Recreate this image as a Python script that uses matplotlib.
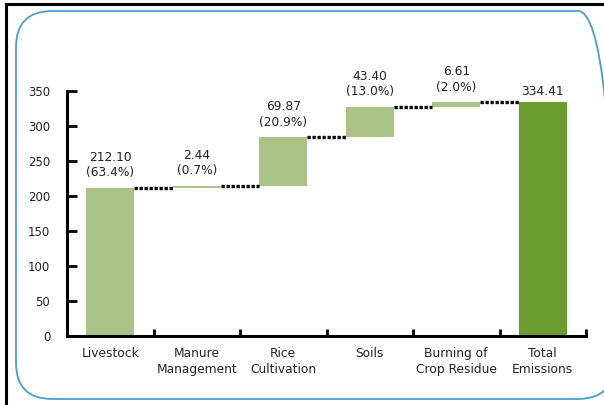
import matplotlib
matplotlib.use("Agg")
import matplotlib.pyplot as plt
from matplotlib.patches import FancyBboxPatch
from matplotlib.lines import Line2D
import numpy as np

plt.rcParams['font.family'] = ['DejaVu Sans']

categories = ["Livestock", "Manure\nManagement", "Rice\nCultivation", "Soils",
              "Burning of\nCrop Residue", "Total\nEmissions"]
values = [212.10, 2.44, 69.87, 43.40, 6.61]
shares = ["63.4%", "0.7%", "20.9%", "13.0%", "2.0%"]
total = 334.41

W, H = 604, 405
fig = plt.figure(figsize=(W / 100, H / 100), dpi=100)

# outer black frame (left + top only visible)
fig.add_artist(Line2D([6 / W, 6 / W], [0, 1 - 3.5 / H], color="black", lw=2.2, transform=fig.transFigure))
fig.add_artist(Line2D([6 / W, 1], [1 - 3.5 / H, 1 - 3.5 / H], color="black", lw=2.2, transform=fig.transFigure))

# rounded blue box, right edge runs off the canvas
box = FancyBboxPatch((16 / W, 1 - 399 / H), 598 / W, 388 / H,
                     boxstyle="round,pad=0,rounding_size=0.06",
                     transform=fig.transFigure, fill=False, ec="#4a9fd0", lw=1.3,
                     mutation_aspect=W / H)
fig.add_artist(box)

ax = fig.add_axes([67 / W, 1 - 336 / H, (586 - 67) / W, (336 - 91) / H])
ax.set_facecolor("none")

light = "#a9c386"
dark = "#6a9c30"
bw = 0.56

x = np.arange(len(categories))
bottoms = np.concatenate([[0], np.cumsum(values)[:-1]])
ax.bar(x[:-1], values, bottom=bottoms, width=bw, color=light, zorder=2)
ax.bar(x[-1], total, width=bw, color=dark, zorder=2)

# connectors
tops = np.cumsum(values)
for i in range(len(values)):
    ax.plot([x[i] + bw / 2, x[i + 1] - bw / 2], [tops[i], tops[i]], color="black",
            lw=2.4, ls=(0, (1, 0.5)), zorder=3, clip_on=False)

# labels
for i, (v, s) in enumerate(zip(values, shares)):
    ax.annotate(f"{v:.2f}\n({s})", (x[i], tops[i]), xytext=(0, 6), textcoords="offset points",
                ha="center", va="bottom", fontsize=8.8, color="#222222", linespacing=1.25)
ax.annotate(f"{total:.2f}", (x[-1], total), xytext=(0, 3), textcoords="offset points",
            ha="center", va="bottom", fontsize=8.8, color="#222222")

ax.set_xlim(-0.5, len(categories) - 0.5)
ax.set_ylim(0, 350)
ax.set_yticks(np.arange(0, 351, 50))
ax.tick_params(axis="y", direction="in", length=7, width=2, labelsize=8.5, pad=12,
               labelcolor="#222222")
ax.set_xticks(np.arange(-0.5, len(categories), 1.0))
ax.set_xticklabels([])
ax.tick_params(axis="x", direction="in", length=5, width=2)
ax.set_xticks(x, minor=True)
ax.set_xticklabels(categories, minor=True, fontsize=8.8, linespacing=1.3, color="#222222")
ax.tick_params(axis="x", which="minor", length=0, pad=8)

for side in ["top", "right"]:
    ax.spines[side].set_visible(False)
ax.spines["left"].set_linewidth(2.2)
ax.spines["bottom"].set_linewidth(2.2)

fig.savefig("out.png", dpi=100)
